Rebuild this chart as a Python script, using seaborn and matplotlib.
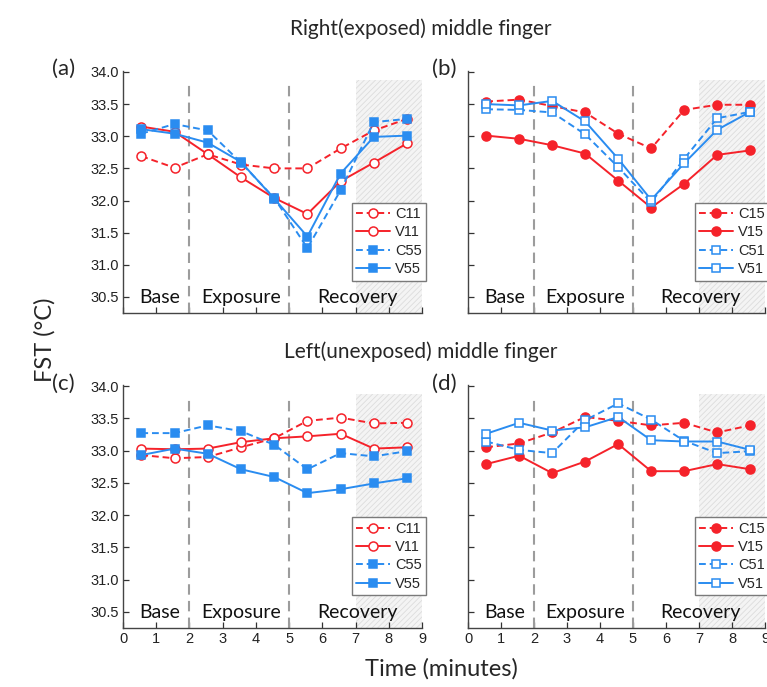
import numpy as np
import pandas as pd
import matplotlib
matplotlib.use('Agg')
import matplotlib.pyplot as plt
import seaborn as sns

# sample times (minutes)
time = [0.55, 1.55, 2.55, 3.55, 4.55, 5.55, 6.55, 7.55, 8.55]

# (a) right finger, group 11 / 55
a_c11 = [32.69, 32.51, 32.72, 32.56, 32.50, 32.50, 32.81, 33.09, 33.27]
a_v11 = [33.15, 33.07, 32.72, 32.36, 32.04, 31.79, 32.30, 32.59, 32.89]
a_c55 = [33.04, 33.19, 33.09, 32.59, 32.04, 31.26, 32.16, 33.22, 33.27]
a_v55 = [33.11, 33.04, 32.90, 32.60, 32.03, 31.44, 32.42, 32.99, 33.01]

# (b) right finger, group 15 / 51
b_c15 = [33.54, 33.57, 33.47, 33.37, 33.04, 32.81, 33.41, 33.49, 33.49]
b_v15 = [33.01, 32.96, 32.86, 32.73, 32.31, 31.89, 32.26, 32.71, 32.78]
b_c51 = [33.42, 33.41, 33.37, 33.03, 32.52, 31.97, 32.65, 33.28, 33.38]
b_v51 = [33.50, 33.48, 33.55, 33.23, 32.65, 32.01, 32.58, 33.10, 33.38]

# (c) left finger, group 11 / 55
c_c11 = [32.93, 32.88, 32.90, 33.05, 33.19, 33.46, 33.51, 33.42, 33.43]
c_v11 = [33.03, 33.02, 33.03, 33.13, 33.19, 33.22, 33.26, 33.03, 33.05]
c_c55 = [33.27, 33.27, 33.39, 33.30, 33.09, 32.71, 32.96, 32.91, 32.99]
c_v55 = [32.93, 33.03, 32.95, 32.71, 32.59, 32.34, 32.40, 32.49, 32.57]

# (d) left finger, group 15 / 51
d_c15 = [33.05, 33.11, 33.28, 33.52, 33.46, 33.39, 33.43, 33.28, 33.39]
d_v15 = [32.79, 32.92, 32.65, 32.83, 33.10, 32.68, 32.68, 32.79, 32.71]
d_c51 = [33.14, 33.01, 32.96, 33.47, 33.73, 33.48, 33.15, 32.96, 32.99]
d_v51 = [33.26, 33.43, 33.31, 33.36, 33.52, 33.16, 33.14, 33.14, 33.01]

phase_names = ['Base', 'Exposure', 'Recovery']
phase_x = [1.1, 3.55, 7.05]
xticks = list(range(10))
yticks = [30.5, 31.0, 31.5, 32.0, 32.5, 33.0, 33.5, 34.0]

RED = '#f5222a'
BLUE = '#2a8cf0'
TEXT_FONT = 'Lato'

sns.set_style('ticks')
plt.rcParams['font.family'] = ['Liberation Sans', 'DejaVu Sans']
plt.rcParams['xtick.direction'] = 'in'
plt.rcParams['ytick.direction'] = 'in'
plt.rcParams['hatch.linewidth'] = 0.6

# series styles: (label, color, dashed, marker, open)
styles_11 = [('C11', RED, True, 'o', True), ('V11', RED, False, 'o', True),
             ('C55', BLUE, True, 's', False), ('V55', BLUE, False, 's', False)]
styles_15 = [('C15', RED, True, 'o', False), ('V15', RED, False, 'o', False),
             ('C51', BLUE, True, 's', True), ('V51', BLUE, False, 's', True)]

fig = plt.figure(figsize=(7.67, 6.87), dpi=100)
ax_a = fig.add_axes([0.1604, 0.5444, 0.3898, 0.3527])
ax_b = fig.add_axes([0.6102, 0.5444, 0.3872, 0.3527])
ax_c = fig.add_axes([0.1604, 0.0859, 0.3898, 0.3541])
ax_d = fig.add_axes([0.6102, 0.0859, 0.3872, 0.3541])

panels = [
    (ax_a, '(a)', styles_11, [a_c11, a_v11, a_c55, a_v55], True, False),
    (ax_b, '(b)', styles_15, [b_c15, b_v15, b_c51, b_v51], False, False),
    (ax_c, '(c)', styles_11, [c_c11, c_v11, c_c55, c_v55], True, True),
    (ax_d, '(d)', styles_15, [d_c15, d_v15, d_c51, d_v51], False, True),
]

for ax, tag, styles, series, show_y, show_x in panels:
    ylo, yhi = 30.25, 34.02
    # shaded late-recovery window
    ax.axvspan(7, 9, ymin=0, ymax=(33.87 - ylo) / (yhi - ylo),
               facecolor='#f4f4f4', edgecolor='#dcdcdc', hatch='//////',
               linewidth=0, zorder=0)
    ax.vlines([2, 5], ylo, 33.85, colors='#9c9c9c', linestyles=(0, (5, 3)),
              linewidth=1.5, zorder=1)

    handles = []
    for (name, color, dashed, marker, hollow), vals in zip(styles, series):
        df = pd.DataFrame({'time': time, 'fst': vals})
        ms = 6.5 if marker == 'o' else 5.5
        sns.lineplot(data=df, x='time', y='fst', ax=ax, color=color,
                     linestyle=(0, (3.5, 2)) if dashed else '-',
                     linewidth=1.4, marker=marker, markersize=ms,
                     markerfacecolor='white' if hollow else color,
                     markeredgecolor=color, markeredgewidth=1.1,
                     errorbar=None, zorder=3)
        ln = ax.lines[-1]
        ln.set_label(name)
        handles.append(ln)

    leg = ax.legend(handles=handles, loc='upper right',
                    bbox_to_anchor=(1.015, 0.455), borderaxespad=0,
                    fontsize=10.5, frameon=True, fancybox=False,
                    edgecolor='#7a7a7a', framealpha=1, handlelength=2.3,
                    handletextpad=0.4, labelspacing=0.3, borderpad=0.3)
    leg.get_frame().set_linewidth(1.0)
    leg.set_zorder(5)

    for name, xp in zip(phase_names, phase_x):
        ax.text(xp, 30.41, name, ha='center', va='baseline',
                fontsize=14, family=TEXT_FONT, color='#111111', zorder=4)

    ax.set_xlim(0, 9)
    ax.set_ylim(ylo, yhi)
    ax.set_xticks(xticks)
    ax.set_yticks(yticks)
    ax.tick_params(axis='both', length=4, width=0.9, labelsize=10.5,
                   color='#333333', labelcolor='#222222', pad=3)
    if not show_y:
        ax.set_yticklabels([])
    else:
        ax.set_yticklabels([f'{v:.1f}' for v in yticks])
    if not show_x:
        ax.set_xticklabels([])
    ax.set_xlabel('')
    ax.set_ylabel('')
    sns.despine(ax=ax)
    for sp in ('left', 'bottom'):
        ax.spines[sp].set_color('#444444')
        ax.spines[sp].set_linewidth(1.0)

fig.text(0.068, 0.90, '(a)', fontsize=16, family=TEXT_FONT, va='center')
fig.text(0.563, 0.90, '(b)', fontsize=16, family=TEXT_FONT, va='center')
fig.text(0.068, 0.441, '(c)', fontsize=16, family=TEXT_FONT, va='center')
fig.text(0.563, 0.441, '(d)', fontsize=16, family=TEXT_FONT, va='center')

fig.text(0.548, 0.958, 'Right(exposed) middle finger', ha='center', va='center',
         fontsize=15, family=TEXT_FONT)
fig.text(0.548, 0.488, 'Left(unexposed) middle finger', ha='center', va='center',
         fontsize=15, family=TEXT_FONT)
fig.text(0.058, 0.505, 'FST (°C)', rotation=90, ha='center', va='center',
         fontsize=17, family=TEXT_FONT)
fig.text(0.575, 0.027, 'Time (minutes)', ha='center', va='center',
         fontsize=17, family=TEXT_FONT)

fig.savefig('out.png', dpi=100)
